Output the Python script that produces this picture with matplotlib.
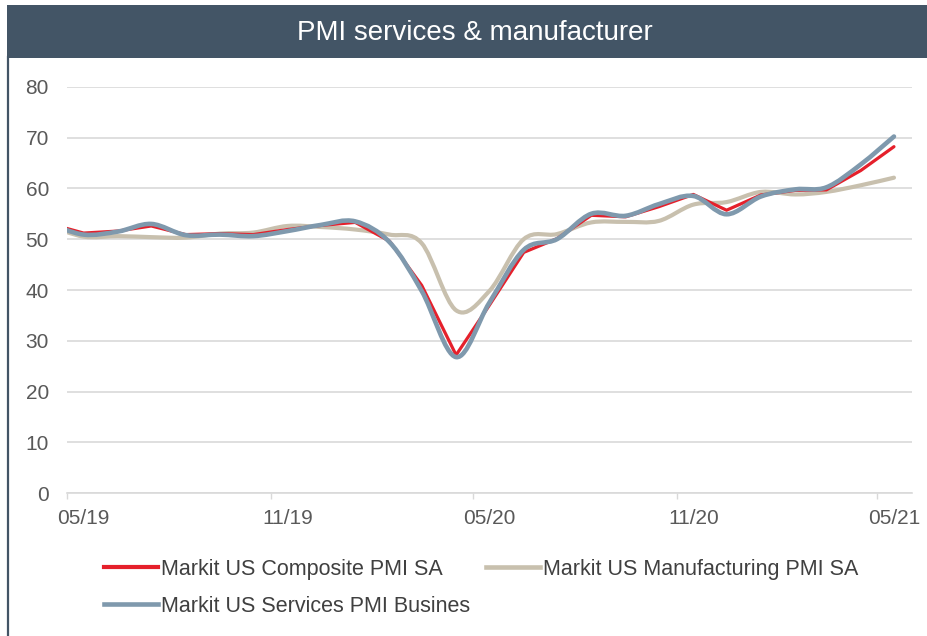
import matplotlib
matplotlib.use('Agg')
import matplotlib.pyplot as plt
import matplotlib.dates as mdates
from matplotlib.path import Path
from matplotlib.patches import PathPatch, Rectangle
from matplotlib.lines import Line2D
import numpy as np

plt.rcParams['font.family'] = ['Liberation Sans', 'DejaVu Sans']

# monthly readings, Apr 2019 .. May 2021 (plotted mid-month)
months = np.arange('2019-04', '2021-06', dtype='datetime64[M]')
composite = [53.0, 51.2, 51.6, 52.6, 50.9, 51.1, 50.9, 51.9, 52.7, 53.3, 49.6, 40.9, 27.2,
             37.0, 47.4, 50.1, 54.7, 54.4, 56.4, 58.8, 55.7, 58.7, 59.6, 59.7, 63.5, 68.2]
services = [53.0, 50.9, 51.5, 53.0, 50.8, 50.9, 50.6, 51.6, 52.8, 53.5, 49.4, 39.8, 26.8,
            37.5, 47.9, 50.0, 55.0, 54.6, 56.9, 58.5, 54.9, 58.4, 59.8, 60.2, 64.7, 70.2]
manufacturing = [52.6, 50.5, 50.6, 50.4, 50.3, 51.1, 51.3, 52.6, 52.4, 51.9, 50.9, 49.2, 36.0,
                 39.8, 50.0, 51.0, 53.3, 53.4, 53.6, 56.8, 57.3, 59.3, 58.8, 59.3, 60.6, 62.1]
labels = ['Markit US Composite PMI SA', 'Markit US Manufacturing PMI SA',
          'Markit US Services PMI Busines']
tick_months = ['2019-05', '2019-11', '2020-05', '2020-11', '2021-05']
tick_labels = ['05/19', '11/19', '05/20', '11/20', '05/21']

RED = '#E5202B'
BEIGE = '#C8C0AE'
BLUE = '#7F99AD'
SLATE = '#435566'
GRID = '#D9D9D9'
TXT = '#595959'


def smooth_path(x, y):
    # Excel style smoothed line: cubic Bezier through every point
    n = len(x)
    verts = [(x[0], y[0])]
    codes = [Path.MOVETO]
    for i in range(n - 1):
        xa, ya = (x[i - 1], y[i - 1]) if i > 0 else (x[i], y[i])
        xb, yb = (x[i + 2], y[i + 2]) if i + 2 < n else (x[i + 1], y[i + 1])
        c1 = (x[i] + (x[i + 1] - xa) / 6, y[i] + (y[i + 1] - ya) / 6)
        c2 = (x[i + 1] - (xb - x[i]) / 6, y[i + 1] - (yb - y[i]) / 6)
        verts += [c1, c2, (x[i + 1], y[i + 1])]
        codes += [Path.CURVE4] * 3
    return Path(verts, codes)


fig = plt.figure(figsize=(9.28, 6.36), dpi=100)

# header bar and left frame
fig.patches.append(Rectangle((7 / 928, 1 - 58 / 636), 1, 53 / 636, transform=fig.transFigure,
                             facecolor=SLATE, edgecolor='none', zorder=0))
fig.add_artist(Line2D([7.5 / 928, 7.5 / 928], [0, 1 - 57 / 636], transform=fig.transFigure,
                      color=SLATE, lw=1.6))
fig.text(475 / 928, 1 - 33 / 636, 'PMI services & manufacturer', color='white',
         fontsize=20, ha='center', va='center')

ax = fig.add_axes([67 / 928, 1 - 493.3 / 636, (911.7 - 67) / 928, (493.3 - 86.7) / 636])

x = mdates.date2num(months.astype('datetime64[D]') + np.timedelta64(15, 'D'))

ax.add_patch(PathPatch(smooth_path(x, manufacturing), facecolor='none', edgecolor=BEIGE,
                       lw=3.0, capstyle='round', joinstyle='round', zorder=2))
ax.plot(x, composite, color=RED, lw=2.3, solid_capstyle='round', solid_joinstyle='round', zorder=3)
ax.add_patch(PathPatch(smooth_path(x, services), facecolor='none', edgecolor=BLUE,
                       lw=3.3, capstyle='round', joinstyle='round', zorder=4))

ax.set_xlim(mdates.date2num(np.datetime64('2019-05-01')), mdates.date2num(np.datetime64('2021-06-01')))
ax.set_ylim(0, 80)
ax.set_yticks(range(0, 81, 10))

major = mdates.date2num(np.array(tick_months, dtype='datetime64[M]').astype('datetime64[D]'))
ax.set_xticks(major)
ax.set_xticklabels([''] * len(major))
ax.set_xticks(major + 15, minor=True)
ax.set_xticklabels(tick_labels, minor=True)
ax.tick_params(axis='x', which='major', length=4, width=1, color=GRID)
ax.tick_params(axis='x', which='minor', length=0, pad=11, labelsize=15, labelcolor=TXT)
ax.tick_params(axis='y', length=0, pad=13, labelsize=15, labelcolor=TXT)

ax.yaxis.grid(True, color=GRID, lw=1.2)
ax.set_axisbelow(True)
for s in ['top', 'right', 'left']:
    ax.spines[s].set_visible(False)
ax.spines['bottom'].set_color(GRID)
ax.spines['bottom'].set_linewidth(1.2)

handles = [Line2D([], [], color=RED, lw=3),
           Line2D([], [], color=BLUE, lw=3.3),
           Line2D([], [], color=BEIGE, lw=3.3)]
fig.legend(handles, [labels[0], labels[2], labels[1]], ncol=2, frameon=False,
           loc='upper left', bbox_to_anchor=(104 / 928, 1 - 559 / 636), borderpad=0,
           borderaxespad=0, fontsize=15.5, handlelength=2.5, handletextpad=0.15,
           columnspacing=0.75, labelspacing=0.72, labelcolor='#404040')

fig.savefig('out.png', dpi=100)
